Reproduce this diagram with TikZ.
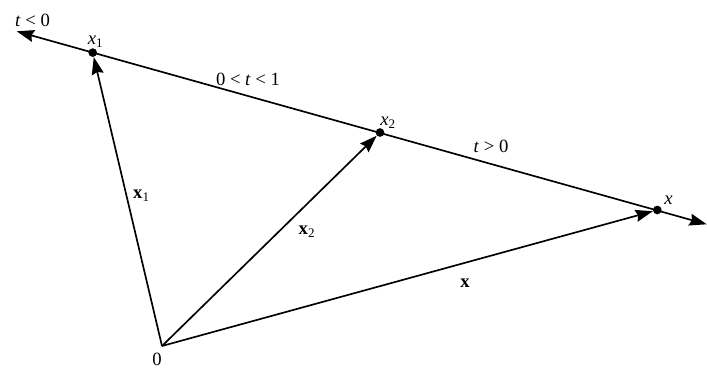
\documentclass[tikz,border=0pt]{standalone}
\usepackage{fontspec}
\setmainfont{Liberation Serif}
\usetikzlibrary{arrows.meta}
\begin{document}
\begin{tikzpicture}[x=0.75pt,y=-0.75pt,
  vec/.style={line width=1.25pt,-{Stealth[length=13pt,width=9pt,inset=1.5pt]}},
  dotpt/.style={circle,fill=black,inner sep=0pt,minimum size=6.5pt},
  lbl/.style={font=\fontsize{14}{16}\selectfont, inner sep=0pt}]
\useasboundingbox (0,0) rectangle (707,368);
\coordinate (L) at (16.7,31.3);
\coordinate (R) at (706.7,224.3);
\coordinate (O) at (162,346);
\node[dotpt] (P1) at (92.7,52.6) {};
\node[dotpt] (P2) at (380,132.5) {};
\node[dotpt] (P) at (657.3,210) {};
\draw[line width=1.25pt,{Stealth[length=13pt,width=9pt,inset=1.5pt]}-{Stealth[length=13pt,width=9pt,inset=1.5pt]}] (L) -- (R);
\draw[vec] (O) -- (P1);
\draw[vec] (O) -- (P2);
\draw[vec] (O) -- (P);
\node[lbl] (tneg) at (32.5,20) {\textit{t} < 0};
\node[lbl] (tmid) at (248,79) {0 < \textit{t} < 1};
\node[lbl] (tpos) at (491,146) {\textit{t} > 0};
\node[lbl] (l1) at (95.5,42) {\textit{x}\textsubscript{1}};
\node[lbl] (l2) at (388,123) {\textit{x}\textsubscript{2}};
\node[lbl] (l3) at (668.5,200) {\textit{x}};
\node[lbl] (b1) at (141.5,196) {\textbf{x}\textsubscript{1}};
\node[lbl] (b2) at (307,232) {\textbf{x}\textsubscript{2}};
\node[lbl] (b3) at (465,283) {\textbf{x}};
\node[lbl] (zero) at (157,359) {0};
\end{tikzpicture}
\end{document}
